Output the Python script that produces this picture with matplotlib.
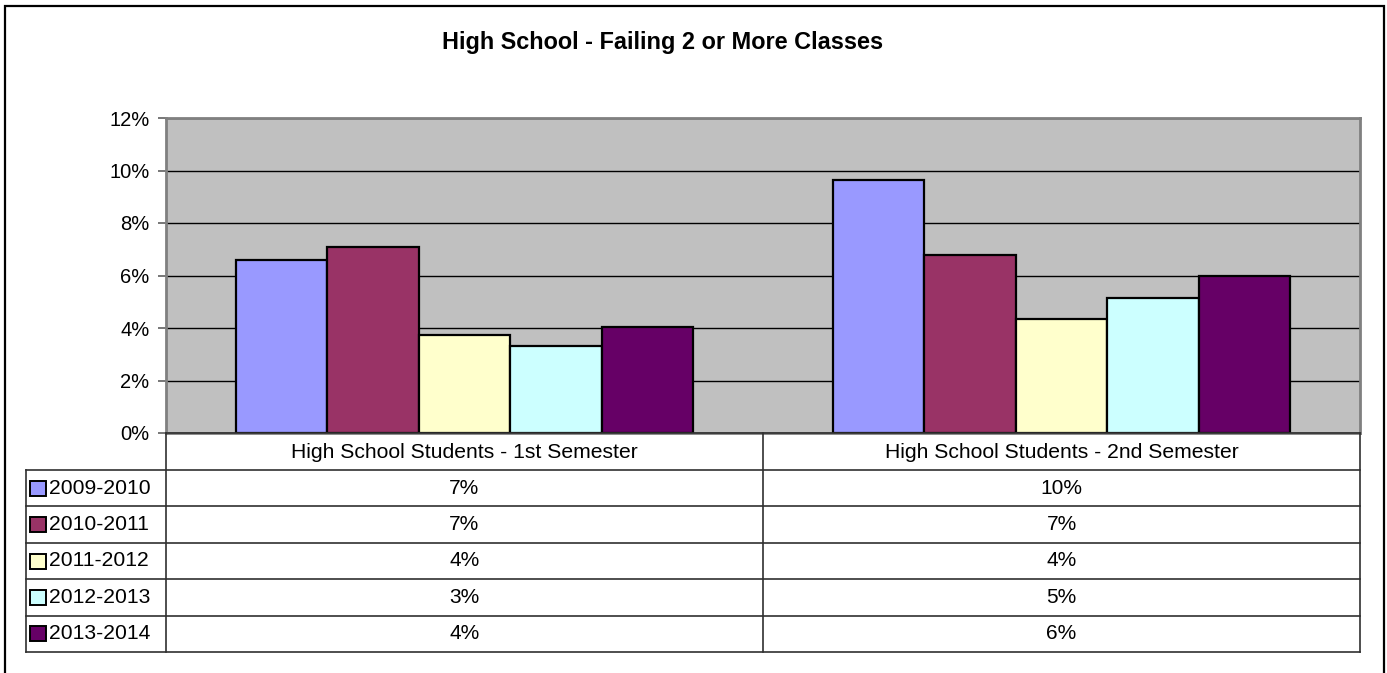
import matplotlib
matplotlib.use("Agg")
import matplotlib.pyplot as plt
from matplotlib.patches import Rectangle
from matplotlib.ticker import FuncFormatter

plt.rcParams['font.family'] = ['Liberation Sans', 'DejaVu Sans']

title = "High School - Failing 2 or More Classes"
categories = ["High School Students - 1st Semester", "High School Students - 2nd Semester"]
series_names = ["2009-2010", "2010-2011", "2011-2012", "2012-2013", "2013-2014"]
values = {
    "2009-2010": [6.6, 9.65],
    "2010-2011": [7.1, 6.8],
    "2011-2012": [3.75, 4.35],
    "2012-2013": [3.3, 5.15],
    "2013-2014": [4.05, 6.0],
}
colors = ["#9999FF", "#993366", "#FFFFCC", "#CCFFFF", "#660066"]
y_ticks = [0, 2, 4, 6, 8, 10, 12]

W, H = 1387, 673
fig = plt.figure(figsize=(W / 100, H / 100), dpi=100)
fig.patch.set_facecolor("white")

def fx(px):
    return px / W

def fy(py):
    return (H - py) / H

# Outer chart border
fig.add_artist(Rectangle((fx(4.5), -0.02), fx(1383.5) - fx(4.5), fy(6) + 0.02,
                         transform=fig.transFigure, fill=False, ec="black", lw=1.6))

fig.text(fx(663), fy(43), title, ha="center", va="center",
         fontsize=16.9, fontweight="bold")

# Main plot area
L, R, T, B = 166, 1360, 118, 433
ax = fig.add_axes([fx(L), fy(B), fx(R) - fx(L), fy(T) - fy(B)])
ax.set_facecolor("#C0C0C0")
ax.set_xlim(-0.5, len(categories) - 0.5)
ax.set_ylim(0, 12)
ax.set_yticks(y_ticks)
ax.yaxis.set_major_formatter(FuncFormatter(lambda v, p: f"{int(v)}%"))
ax.set_xticks([])
ax.tick_params(axis="y", direction="out", length=6, width=1.2, color="#606060",
               labelsize=14.5, pad=6)
ax.grid(axis="y", color="black", lw=1)
ax.set_axisbelow(True)
for s in ax.spines.values():
    s.set_color("#808080")
    s.set_linewidth(2)

n = len(series_names)
w = 0.153
for i, name in enumerate(series_names):
    xs = [c + (i - (n - 1) / 2) * w for c in range(len(categories))]
    ax.bar(xs, values[name], width=w, color=colors[i], edgecolor="black",
           linewidth=1.6, zorder=3)

# Data table
TL, TT, TB = 26, 433, 652
HR = 470
tax = fig.add_axes([fx(TL), fy(TB), fx(R) - fx(TL), fy(TT) - fy(TB)])
tax.set_xlim(TL, R)
tax.set_ylim(TB, TT)
tax.axis("off")

col_edges = [L, (L + R) / 2, R]
row_h = (TB - HR) / n
lc = "#303030"
tax.plot([L, R], [TT, TT], color=lc, lw=1.2, clip_on=False)
for xe in col_edges:
    tax.plot([xe, xe], [TT, TB], color=lc, lw=1.2, clip_on=False)
tax.plot([TL, TL], [HR, TB], color=lc, lw=1.2, clip_on=False)
for r in range(n + 1):
    yy = HR + r * row_h
    tax.plot([TL, R], [yy, yy], color=lc, lw=1.2, clip_on=False)

for j, cat in enumerate(categories):
    cx = (col_edges[j] + col_edges[j + 1]) / 2
    tax.text(cx, (TT + HR) / 2 + 1, cat, ha="center", va="center", fontsize=15.2)

for i, name in enumerate(series_names):
    cy = HR + (i + 0.5) * row_h
    tax.add_patch(Rectangle((30, cy - 7.5), 16, 15, facecolor=colors[i],
                            edgecolor="black", lw=1.4, clip_on=False))
    tax.text(49, cy, name, ha="left", va="center", fontsize=15.2)
    for j in range(len(categories)):
        cx = (col_edges[j] + col_edges[j + 1]) / 2
        tax.text(cx, cy, f"{round(values[name][j])}%", ha="center", va="center",
                 fontsize=15)

fig.savefig("out.png", dpi=100)
